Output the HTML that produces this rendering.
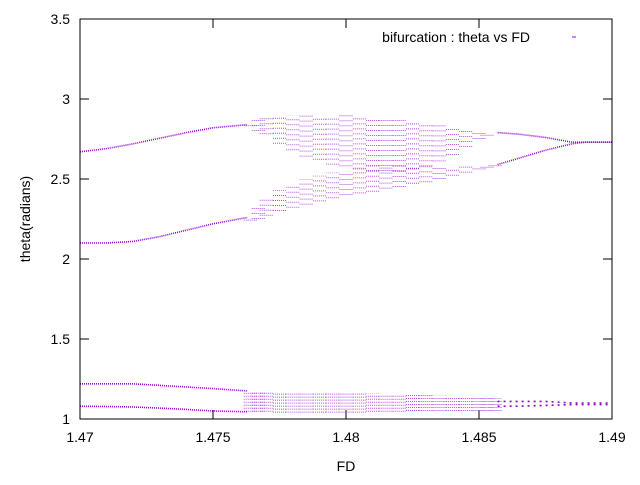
<!DOCTYPE html>
<html><head><meta charset="utf-8"><style>
body{margin:0;background:#fff}
svg text{font-family:"Liberation Sans","DejaVu Sans",sans-serif;font-size:14px;fill:#000}
</style></head><body>
<svg id="chart" width="640" height="480" xmlns="http://www.w3.org/2000/svg">
<g id="marks"></g>
<rect x="80" y="19" width="532" height="400" fill="none" stroke="#000" stroke-width="1"/>
<g id="axes"></g>
<text x="30" y="219" text-anchor="middle" transform="rotate(-90 30 219)">theta(radians)</text>
<text x="346" y="471" text-anchor="middle">FD</text>
<text x="530" y="42" text-anchor="end">bifurcation : theta vs FD</text>
<line x1="572" y1="37" x2="576" y2="37" stroke="#9400d3" stroke-width="1"/>
</svg>
<script>
const xTicks=[1.47,1.475,1.48,1.485,1.49];
const xTickLabels=["1.47","1.475","1.48","1.485","1.49"];
const yTicks=[1,1.5,2,2.5,3,3.5];
const yTickLabels=["1","1.5","2","2.5","3","3.5"];
// periodic branches (fd, theta)
const branchFd=[1.47,1.471,1.472,1.473,1.474,1.475,1.4763];
const branchUpper=[2.67,2.69,2.72,2.755,2.79,2.82,2.84];
const branchLower=[2.10,2.10,2.11,2.14,2.18,2.22,2.26];
const branchLow1=[1.22,1.22,1.22,1.21,1.20,1.19,1.175];
const branchLow2=[1.08,1.078,1.075,1.068,1.06,1.05,1.045];
// chaotic bands
const bandFd=[1.4764,1.4767,1.477,1.4775,1.478,1.4785,1.479,1.4795,1.48,1.4805,1.481,1.4815,1.482,1.4825,1.483,1.4835,1.484,1.4845,1.485,1.4853,1.4856];
const upMin=[2.83,2.80,2.78,2.72,2.68,2.64,2.62,2.59,2.58,2.56,2.55,2.55,2.55,2.56,2.58,2.61,2.65,2.70,2.75,2.77,2.79];
const upMax=[2.86,2.87,2.88,2.89,2.90,2.90,2.90,2.90,2.90,2.90,2.89,2.89,2.88,2.87,2.86,2.85,2.83,2.82,2.80,2.80,2.79];
const loMin=[2.24,2.25,2.27,2.30,2.32,2.34,2.36,2.38,2.40,2.41,2.42,2.44,2.45,2.47,2.48,2.50,2.52,2.54,2.56,2.57,2.58];
const loMax=[2.27,2.32,2.38,2.43,2.47,2.50,2.52,2.54,2.55,2.57,2.58,2.58,2.58,2.58,2.58,2.58,2.58,2.58,2.58,2.58,2.59];
const lowMin=[1.045,1.045,1.045,1.04,1.04,1.04,1.04,1.04,1.04,1.04,1.045,1.045,1.045,1.05,1.05,1.05,1.05,1.05,1.05,1.05,1.05];
const lowMax=[1.175,1.175,1.175,1.17,1.17,1.17,1.17,1.165,1.165,1.16,1.16,1.155,1.155,1.15,1.15,1.145,1.14,1.14,1.14,1.14,1.13];
// post-chaos branches
const postFd=[1.4857,1.4865,1.4875,1.4885,1.489,1.49];
const postUpper=[2.79,2.78,2.76,2.73,2.73,2.73];
const postLower=[2.59,2.63,2.68,2.72,2.73,2.73];
const postLow1=[1.11,1.11,1.11,1.10,1.10,1.10];
const postLow2=[1.08,1.08,1.085,1.09,1.09,1.09];

const X=v=>80+(v-1.47)/0.02*532;
const Y=v=>419-(v-1)*160;
const NS="http://www.w3.org/2000/svg";
const marks=document.getElementById('marks'), axes=document.getElementById('axes');
const col="#9400d3";
function mk(tag,attrs,parent){const e=document.createElementNS(NS,tag);for(const k in attrs)e.setAttribute(k,attrs[k]);parent.appendChild(e);return e;}
function branch(fd,th,name,dash){
  const p=mk('polyline',{points:fd.map((f,i)=>X(f)+','+Y(th[i])).join(' '),fill:'none',stroke:col,'stroke-width':1.6,'stroke-dasharray':dash||'1 1'},marks);
  
  
}
branch(branchFd,branchUpper,'branch-upper');
branch(branchFd,branchLower,'branch-lower');
branch(branchFd,branchLow1,'branch-low-1');
branch(branchFd,branchLow2,'branch-low-2');
branch(postFd,postUpper,'post-branch-upper');
branch(postFd,postLower,'post-branch-lower');
branch(postFd,postLow1,'post-branch-low-1','2 4');
branch(postFd,postLow2,'post-branch-low-2','2 4');
bandFd.forEach((f,i)=>{
  [[upMin,upMax,'band-upper'],[loMin,loMax,'band-lower'],[lowMin,lowMax,'band-low']].forEach(([a,b,n])=>{
    for(let dx=-6;dx<=6;dx+=2){
      const l=mk('line',{x1:X(f)+dx,x2:X(f)+dx,y1:Y(a[i]),y2:Y(b[i]),stroke:col,'stroke-width':1,'stroke-dasharray':'1 '+(n==='band-low'?2:4),opacity:0.7},marks);
      
      
    }
  });
});
xTicks.forEach((t,i)=>{
  const x=X(t);
  const a=mk('line',{x1:x,x2:x,y1:419,y2:410,stroke:'#000'},axes);
  
  
  const b=mk('line',{x1:x,x2:x,y1:19,y2:28,stroke:'#000'},axes);
  
  
  const tx=mk('text',{x:x,y:442,'text-anchor':'middle'},axes);tx.textContent=xTickLabels[i];
  
  
});
yTicks.forEach((t,i)=>{
  const y=Y(t);
  const a=mk('line',{x1:80,x2:89,y1:y,y2:y,stroke:'#000'},axes);
  
  
  const b=mk('line',{x1:603,x2:612,y1:y,y2:y,stroke:'#000'},axes);
  
  
  const tx=mk('text',{x:70,y:y+5,'text-anchor':'end'},axes);tx.textContent=yTickLabels[i];
  
  
});
</script>
</body></html>
